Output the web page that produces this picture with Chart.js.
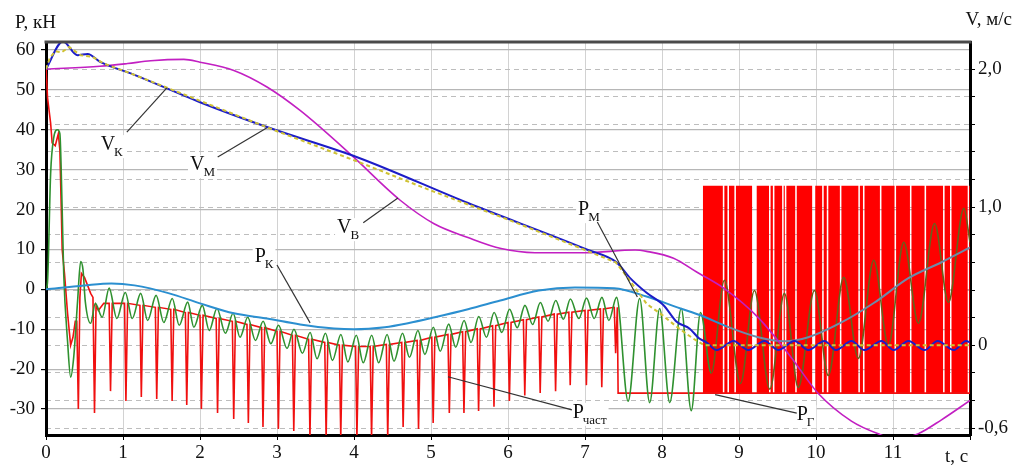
<!DOCTYPE html>
<html>
<head>
<meta charset="utf-8">
<script src="https://cdn.jsdelivr.net/npm/chart.js@4.4.0/dist/chart.umd.min.js"></script>
<style>
    html, body { margin: 0; padding: 0; background: #fff; }
    #wrap { width: 1016px; height: 466px; }
</style>
</head>
<body>
<div id="wrap"><canvas id="forceChart" width="1016" height="466"></canvas></div>
<script>
/* =====================================================
   DATA  (t in s; P in kN on the left axis, V in m/s on the right)
===================================================== */

const tTicks = [0, 1, 2, 3, 4, 5, 6, 7, 8, 9, 10, 11, 12];
const pTicks = [-30, -20, -10, 0, 10, 20, 30, 40, 50, 60];
const vTicks = [-0.6, -0.4, -0.2, 0, 0.2, 0.4, 0.6, 0.8, 1, 1.2, 1.4, 1.6, 1.8, 2];
const vLabels = { "2": "2,0", "1": "1,0", "0": "0", "-0.6": "-0,6" };

// V_M  [t, V]
const vmPoints = [
    [0, 2.0], [0.22, 2.2], [0.41, 2.1], [0.54, 2.11], [0.71, 2.05], [1.14, 1.96],
    [2.0, 1.76], [2.87, 1.58], [4.05, 1.36], [5.48, 1.03], [7.04, 0.69], [7.41, 0.60],
    [7.58, 0.49], [7.8, 0.38], [8.02, 0.29], [8.19, 0.17], [8.36, 0.12], [8.48, 0.05],
    [8.58, 0.02], [8.71, -0.035], [8.93, 0.03], [9.12, -0.035], [9.33, 0.03], [9.51, -0.035],
    [9.72, 0.03], [9.9, -0.035], [10.11, 0.03], [10.26, -0.035], [10.46, 0.03], [10.63, -0.035],
    [10.85, 0.03], [11.01, -0.035], [11.2, 0.03], [11.41, -0.035], [11.58, 0.03], [11.79, -0.035],
    [11.95, 0.03], [12.0, 0.02]
];

// V_K  [t, V]
const vkPoints = [
    [0, 2.0], [0.05, 2.08], [0.12, 2.13], [0.2, 2.12], [0.3, 2.16], [0.45, 2.1], [0.6, 2.09],
    [0.75, 2.04], [1.14, 1.96], [2.0, 1.77], [3.0, 1.55], [4.0, 1.34], [5.0, 1.12], [6.0, 0.91],
    [7.0, 0.69], [7.4, 0.6], [7.58, 0.47], [7.8, 0.3], [8.0, 0.22], [8.2, 0.13], [8.4, 0.05],
    [8.55, 0.0], [12.0, 0.0]
];

// V_B  [t, V]
const vbPoints = [
    [0, 2.0], [0.7, 2.02], [1.06, 2.04], [1.36, 2.06], [1.79, 2.07], [2.0, 2.05], [2.44, 1.99],
    [2.87, 1.87], [3.3, 1.70], [3.96, 1.38], [4.6, 1.05], [5.04, 0.88], [5.48, 0.78], [5.91, 0.70],
    [6.35, 0.67], [7.0, 0.67], [7.65, 0.69], [7.8, 0.68], [8.15, 0.63], [8.45, 0.53], [8.81, 0.41],
    [9.25, 0.20], [9.68, -0.09], [10.03, -0.35], [10.46, -0.55], [10.8, -0.64], [11.05, -0.68],
    [11.33, -0.64], [11.63, -0.54], [12.0, -0.40]
];

// P_K  [t, P]
const pkPoints = [
    [0, 0], [0.5, 1], [0.85, 1.5], [1.15, 1], [1.6, -1], [2.0, -3.5], [2.44, -6], [2.87, -7.3],
    [3.3, -8.8], [3.74, -9.8], [4.0, -10], [4.4, -9.5], [4.7, -8.5], [5.05, -7], [5.48, -5],
    [5.9, -2.8], [6.4, -0.3], [6.87, 0.5], [7.38, 0.3], [7.8, -1.8], [8.24, -4.8], [8.5, -6.5],
    [8.84, -9.3], [9.25, -12], [9.59, -13], [9.9, -12], [10.33, -8.3], [10.76, -3.3], [11.2, 2.8],
    [11.63, 6.8], [12.0, 10.5]
];

// P_M  [t, P]
const pmPoints = [
    [0, 0], [0.02, 2], [0.06, 29], [0.1, 38], [0.15, 40], [0.18, 39], [0.21, 20], [0.23, 4],
    [0.28, -13], [0.32, -22], [0.36, -17], [0.41, -3], [0.45, 7], [0.48, 5], [0.51, -3], [0.58, -8.5],
    [0.64, -3.5], [0.73, -7], [0.82, 0.3], [0.92, -7.3], [1.03, -0.8], [1.12, -7.3], [1.23, -1],
    [1.32, -7.8], [1.43, -1.5], [1.53, -8.3], [1.64, -2.3], [1.73, -9], [1.84, -3.2], [1.92, -9.5],
    [2.03, -4], [2.12, -10.3], [2.22, -4.8], [2.33, -11], [2.43, -6], [2.52, -12], [2.62, -7],
    [2.72, -12.8], [2.82, -8], [2.92, -13.6], [3.02, -9], [3.13, -14.8], [3.22, -10], [3.33, -16],
    [3.43, -10.8], [3.52, -17.4], [3.63, -11], [3.72, -17.8], [3.83, -11.3], [3.92, -18.2],
    [4.03, -11.5], [4.12, -18.4], [4.23, -11.5], [4.32, -18.4], [4.43, -11.3], [4.52, -18],
    [4.63, -11], [4.72, -17], [4.83, -10.3], [4.92, -16.3], [5.03, -9.5], [5.12, -15.5],
    [5.23, -8.7], [5.32, -14.5], [5.43, -7.8], [5.52, -13.3], [5.62, -6.8], [5.72, -12],
    [5.82, -5.8], [5.92, -10.8], [6.02, -5], [6.12, -9.6], [6.22, -4], [6.32, -8.8], [6.42, -3.3],
    [6.52, -8], [6.62, -2.8], [6.72, -7.5], [6.81, -2.4], [6.92, -7.3], [7.02, -2.2], [7.12, -7.3],
    [7.22, -2], [7.31, -7.8], [7.41, -2], [7.56, -28], [7.71, -2.3], [7.84, -28.4], [7.97, -4.8],
    [8.1, -28.4], [8.25, -4.8], [8.38, -30.4], [8.5, -5.8], [8.64, -21], [8.81, 2.3], [9.02, -23.6],
    [9.2, -0.3], [9.4, -25], [9.59, -1], [9.77, -24.6], [9.98, -0.3], [10.16, -21.6], [10.36, 3],
    [10.55, -17.3], [10.75, 7.3], [10.94, -14], [11.14, 11.8], [11.33, -8.5], [11.54, 16.5],
    [11.72, -3.3], [11.92, 20.3], [12.0, 11.8]
];

// P_част: start-up part [t, P]
const pcStart = [
    [0, 56], [0.02, 48], [0.06, 41.7], [0.08, 36.7], [0.12, 36], [0.16, 39], [0.18, 35], [0.2, 19],
    [0.21, 10], [0.24, 4], [0.28, -6], [0.32, -14], [0.35, -12], [0.38, -8], [0.40, -8], [0.42, -30],
    [0.44, -2], [0.46, 4], [0.5, 3], [0.58, -1], [0.61, -2], [0.63, -31], [0.65, -4], [0.68, -5.3],
    [0.75, -3.5]
];

// P_част: periodic spikes [t, base level, spike bottom]
const pcSpikes = [
    [0.82, -3.5, -25.5], [1.02, -3.5, -28], [1.22, -4, -27], [1.42, -4.5, -27.5], [1.62, -5, -28],
    [1.81, -5.8, -29], [2.0, -6.5, -30], [2.21, -7.3, -31], [2.42, -8, -32.5], [2.61, -8.8, -33.5],
    [2.8, -9.6, -34.5], [3.0, -10.5, -35], [3.2, -11.5, -35.5], [3.41, -12.5, -37], [3.62, -13.3, -37],
    [3.81, -14, -37], [4.02, -14.3, -37], [4.21, -14.3, -37], [4.42, -13.8, -37], [4.62, -13.3, -34.5],
    [4.82, -12.8, -35], [5.01, -12, -33.5], [5.22, -11.3, -31], [5.41, -10.6, -31], [5.6, -9.9, -30.5],
    [5.8, -9.1, -29.4], [6.0, -8.3, -28], [6.2, -7.6, -26.6], [6.4, -6.9, -26], [6.6, -6.2, -25.5],
    [6.79, -5.7, -24], [7.0, -5.3, -24], [7.2, -4.9, -24.5], [7.38, -4.5, -16]
];

// P_Г: flat part after the switch [t, P]
const pcTail = [[7.42, -4.5], [7.43, -26], [12.0, -26]];

// P_Г switching block: levels, span and the white gaps inside it
const pgLevels = [-26, 26];
const pgSpan = [8.53, 12.0];
const pgGapFrom = [8.79, 8.85, 8.94, 9.17, 9.39, 9.44, 9.56, 9.595, 9.73, 9.95, 10.08,
                   10.14, 10.31, 10.55, 10.61, 10.83, 11.02, 11.22, 11.41, 11.65, 11.74, 11.97];
const pgGapTo   = [8.81, 8.87, 8.96, 9.23, 9.41, 9.46, 9.58, 9.615, 9.75, 9.99, 10.10,
                   10.16, 10.33, 10.57, 10.63, 10.85, 11.04, 11.24, 11.43, 11.67, 11.76, 11.99];

/* =====================================================
   LABELS  (positions in data units: t, P)
===================================================== */

const notes = [
    { main: "V", sub: "К",    at: [0.71, 34.9],  lead: [[1.05, 39.4], [1.57, 50.5]] },
    { main: "V", sub: "М",    at: [1.87, 29.9],  lead: [[2.23, 33.2], [2.87, 40.5]] },
    { main: "V", sub: "В",    at: [3.78, 14.1],  lead: [[4.12, 16.7], [4.57, 22.9]] },
    { main: "P", sub: "М",    at: [6.91, 18.6],  lead: [[7.16, 16.9], [7.68, -1.9]] },
    { main: "P", sub: "К",    at: [2.71, 6.9],   lead: [[3.0, 6.1],   [3.43, -8.4]] },
    { main: "P", sub: "част", at: [6.84, -32.2], lead: [[6.83, -30.2], [5.22, -21.9]] },
    { main: "P", sub: "Г",    at: [9.75, -32.8], lead: [[9.75, -31],  [8.69, -26.4]] }
];

/* =====================================================
   BUILDERS
===================================================== */

const SERIF = '"Liberation Serif", "DejaVu Serif", serif';
const BLOCK_START = pgSpan[0];

function toXY(pairs) {
    return pairs.map(p => ({ x: p[0], y: p[1] }));
}

// each spike is a narrow wedge: base -> bottom -> base
function buildPchast() {
    const out = toXY(pcStart);
    pcSpikes.forEach(s => {
        out.push({ x: s[0], y: s[1] });
        out.push({ x: s[0] + 0.018, y: s[2] });
        out.push({ x: s[0] + 0.04, y: s[1] });
    });
    return out.concat(toXY(pcTail));
}

function buildBlock() {
    const lo = pgLevels[0], hi = pgLevels[1];
    const out = [];
    let a = pgSpan[0];
    pgGapFrom.forEach((g, i) => {
        out.push({ x: a, y: lo }, { x: a, y: hi }, { x: g, y: hi }, { x: g, y: lo });
        a = pgGapTo[i];
    });
    out.push({ x: a, y: lo }, { x: a, y: hi }, { x: pgSpan[1], y: hi }, { x: pgSpan[1], y: lo });
    return out;
}

function inBlock(c) {
    return c.p0.parsed.x >= BLOCK_START;
}

/* =====================================================
   DECORATION PLUGIN (frame top, labels, axis titles)
===================================================== */

const decor = {
    id: "decor",
    afterDatasetsDraw(chart) {
        const { ctx, chartArea: a, scales: { x, yP } } = chart;
        ctx.save();

        ctx.strokeStyle = "#4a4a4a";
        ctx.lineWidth = 3;
        ctx.beginPath();
        ctx.moveTo(a.left - 1.5, a.top);
        ctx.lineTo(a.right + 1.5, a.top);
        ctx.stroke();

        notes.forEach(n => {
            const px = x.getPixelForValue(n.at[0]);
            const py = yP.getPixelForValue(n.at[1]);

            ctx.font = "20px " + SERIF;
            const w = ctx.measureText(n.main).width;
            ctx.font = "13px " + SERIF;
            const ws = ctx.measureText(n.sub).width;

            ctx.fillStyle = "#fff";
            ctx.fillRect(px - 2, py - 15, w + ws + 3, 23);

            ctx.fillStyle = "#111";
            ctx.textAlign = "left";
            ctx.textBaseline = "alphabetic";
            ctx.font = "20px " + SERIF;
            ctx.fillText(n.main, px, py);
            ctx.font = "13px " + SERIF;
            ctx.fillText(n.sub, px + w - 1, py + 6);

            ctx.strokeStyle = "#333";
            ctx.lineWidth = 1.2;
            ctx.beginPath();
            ctx.moveTo(x.getPixelForValue(n.lead[0][0]), yP.getPixelForValue(n.lead[0][1]));
            ctx.lineTo(x.getPixelForValue(n.lead[1][0]), yP.getPixelForValue(n.lead[1][1]));
            ctx.stroke();
        });

        ctx.fillStyle = "#111";
        ctx.font = "19px " + SERIF;
        ctx.textBaseline = "alphabetic";
        ctx.textAlign = "left";
        ctx.fillText("P, кН", 15, 28);
        ctx.textAlign = "right";
        ctx.fillText("V, м/с", chart.width - 4, 25);
        ctx.textAlign = "left";
        ctx.fillText("t, с", a.right - 25, chart.height - 4);

        ctx.restore();
    }
};

/* =====================================================
   CHART
===================================================== */

const tickFont = { family: SERIF, size: 19 };

new Chart(document.getElementById("forceChart").getContext("2d"), {
    type: "line",
    data: {
        datasets: [
            {
                label: "V_K",
                data: toXY(vkPoints),
                yAxisID: "yV",
                borderColor: "#cfc234",
                borderWidth: 2,
                borderDash: [4, 3],
                order: 0
            },
            {
                label: "V_M",
                data: toXY(vmPoints),
                yAxisID: "yV",
                borderColor: "#1c1cc8",
                borderWidth: 2,
                cubicInterpolationMode: "monotone",
                order: 1
            },
            {
                label: "V_B",
                data: toXY(vbPoints),
                yAxisID: "yV",
                borderColor: "#c21fc2",
                borderWidth: 1.6,
                cubicInterpolationMode: "monotone",
                order: 2
            },
            {
                label: "P_K",
                data: toXY(pkPoints),
                yAxisID: "yP",
                borderColor: "#2b8fd0",
                borderWidth: 2,
                cubicInterpolationMode: "monotone",
                segment: { borderColor: c => (inBlock(c) ? "#6e8aa8" : undefined) },
                order: 3
            },
            {
                label: "P_M",
                data: toXY(pmPoints),
                yAxisID: "yP",
                borderColor: "#2f912f",
                borderWidth: 1.6,
                cubicInterpolationMode: "monotone",
                segment: { borderColor: c => (inBlock(c) ? "#66621c" : undefined) },
                order: 4
            },
            {
                label: "P_част",
                data: buildPchast(),
                yAxisID: "yP",
                borderColor: "#f01010",
                borderWidth: 1.6,
                order: 5
            },
            {
                label: "P_Г",
                data: buildBlock(),
                yAxisID: "yP",
                borderWidth: 0,
                borderColor: "rgba(0,0,0,0)",
                backgroundColor: "#ff0000",
                fill: { value: pgLevels[0] },
                order: 6
            }
        ]
    },
    options: {
        responsive: false,
        animation: false,
        devicePixelRatio: 1,
        parsing: false,
        events: [],
        elements: { point: { radius: 0 }, line: { tension: 0 } },
        layout: { padding: { top: 42, left: 0, right: 0, bottom: 0 } },
        plugins: {
            legend: { display: false },
            tooltip: { enabled: false },
            title: { display: false }
        },
        scales: {
            x: {
                type: "linear",
                position: "bottom",
                min: 0,
                max: 12,
                afterBuildTicks: s => { s.ticks = tTicks.map(v => ({ value: v })); },
                afterFit: s => { s.height = 31; },
                ticks: {
                    callback: v => (v === 12 ? "" : String(v)),
                    color: "#111",
                    font: tickFont,
                    padding: 2,
                    maxRotation: 0,
                    autoSkip: false
                },
                grid: { color: "#d2d2d2", lineWidth: 1, tickLength: 5, tickColor: "#000" },
                border: { color: "#000", width: 3 }
            },
            yP: {
                type: "linear",
                position: "left",
                min: -36.5,
                max: 62,
                afterBuildTicks: s => { s.ticks = pTicks.map(v => ({ value: v })); },
                afterFit: s => { s.width = 46; },
                ticks: {
                    callback: v => String(v),
                    color: "#111",
                    font: tickFont,
                    padding: 6,
                    autoSkip: false
                },
                grid: { color: "#b6b6b6", lineWidth: 1.2, tickLength: 5, tickColor: "#000" },
                border: { color: "#000", width: 3 }
            },
            yV: {
                type: "linear",
                position: "right",
                min: -0.65,
                max: 2.196,
                afterBuildTicks: s => { s.ticks = vTicks.map(v => ({ value: v })); },
                afterFit: s => { s.width = 46; },
                ticks: {
                    callback: v => (vLabels[String(v)] !== undefined ? vLabels[String(v)] : ""),
                    color: "#111",
                    font: tickFont,
                    padding: 3,
                    autoSkip: false
                },
                grid: { color: "#bdbdbd", lineWidth: 1, tickLength: 5, tickColor: "#000" },
                border: { color: "#000", width: 3, dash: [5, 4] }
            }
        }
    },
    plugins: [decor]
});
</script>
</body>
</html>
